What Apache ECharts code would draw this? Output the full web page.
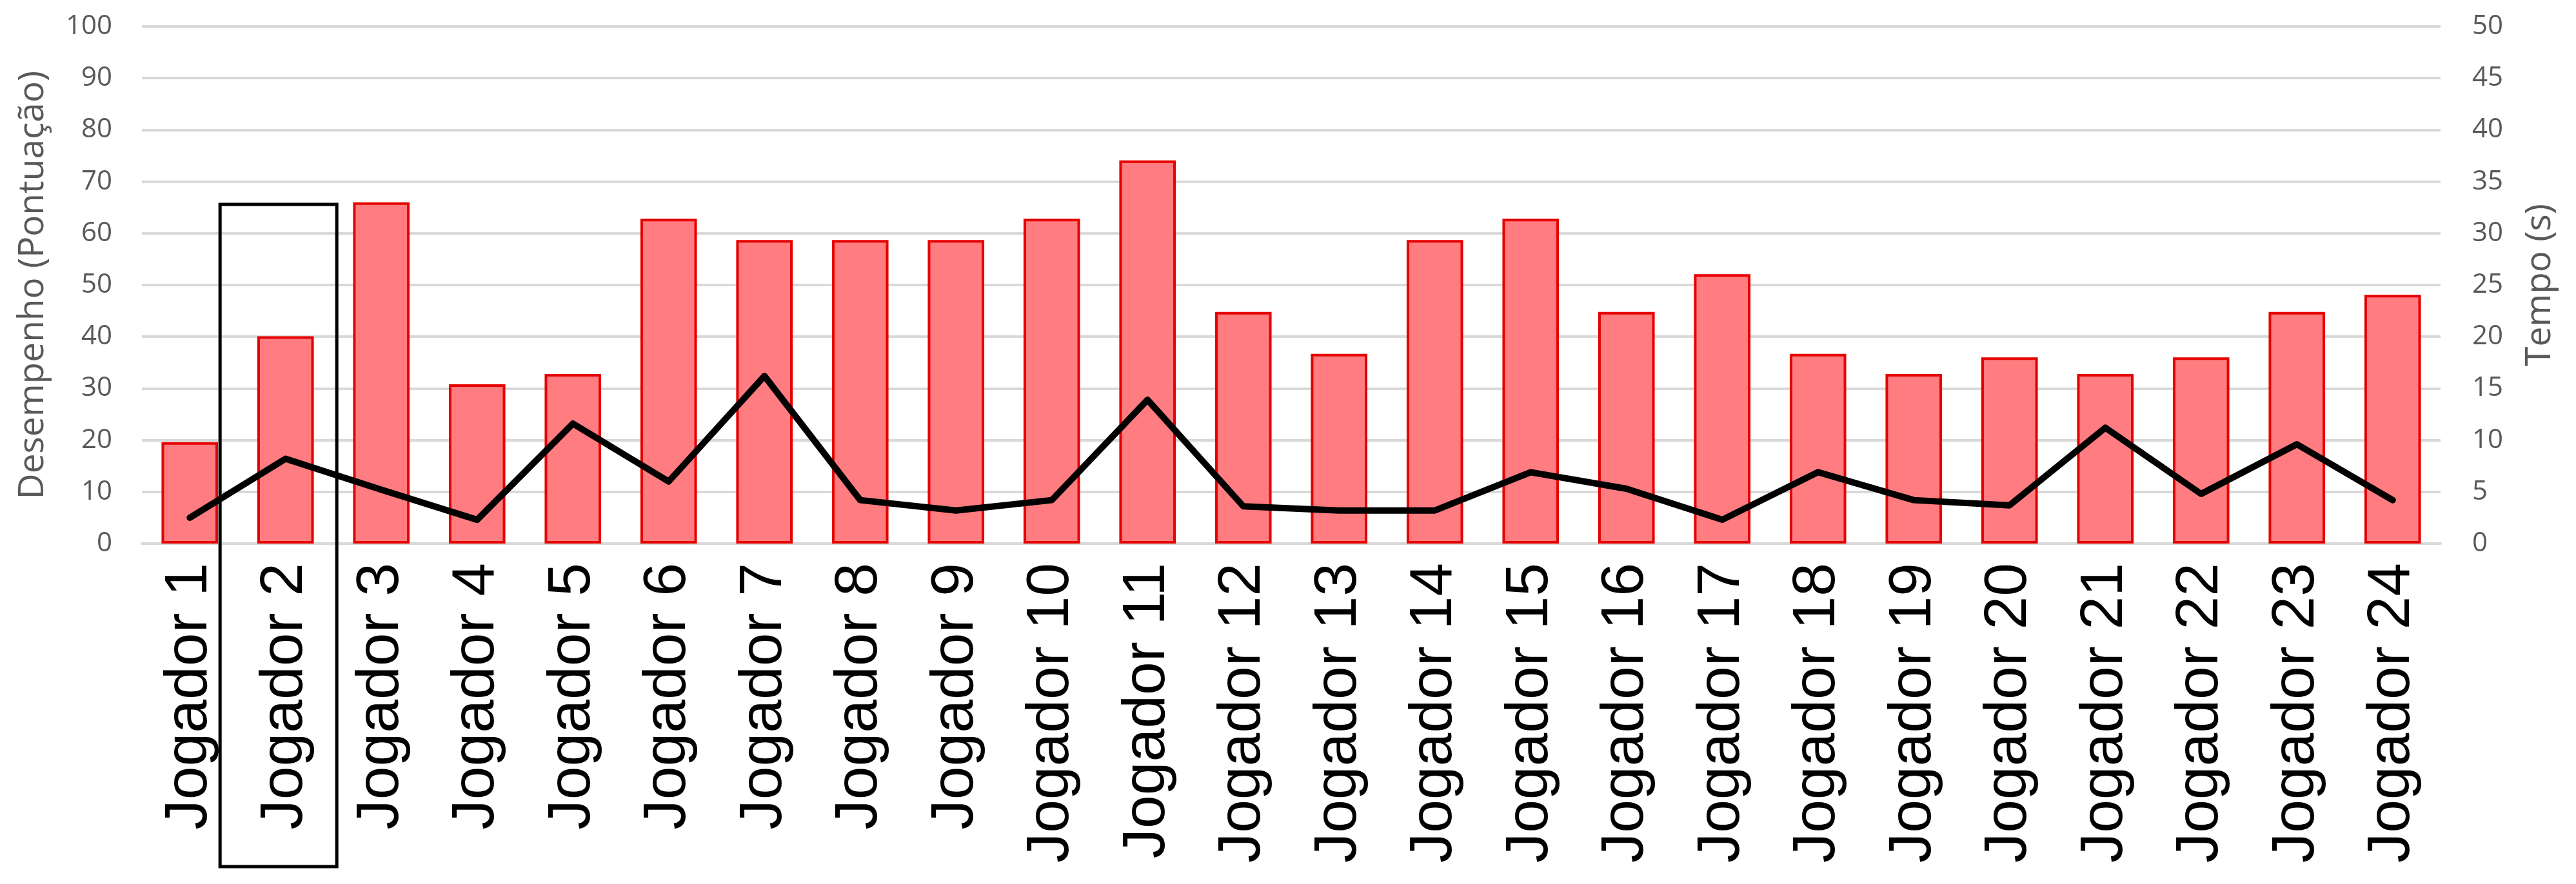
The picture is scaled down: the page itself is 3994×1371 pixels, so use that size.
<!DOCTYPE html>
<html>
<head>
<meta charset="utf-8">
<script src="https://cdn.jsdelivr.net/npm/echarts@6/dist/echarts.min.js"></script>
<style>
html,body{margin:0;padding:0;background:#fff;}
#c{width:3994px;height:1371px;}
</style>
</head>
<body>
<div id="c"></div>
<script>
const categories = ['Jogador 1','Jogador 2','Jogador 3','Jogador 4','Jogador 5','Jogador 6','Jogador 7','Jogador 8','Jogador 9','Jogador 10','Jogador 11','Jogador 12','Jogador 13','Jogador 14','Jogador 15','Jogador 16','Jogador 17','Jogador 18','Jogador 19','Jogador 20','Jogador 21','Jogador 22','Jogador 23','Jogador 24'];
const desempenho = [19.6, 40.1, 66.0, 30.8, 32.8, 62.8, 58.7, 58.7, 58.7, 62.8, 74.1, 44.8, 36.7, 58.7, 62.8, 44.8, 52.1, 36.7, 32.8, 36.0, 32.8, 36.0, 44.8, 48.1];
const tempo = [2.5, 8.2, 5.2, 2.3, 11.6, 6.0, 16.2, 4.2, 3.2, 4.2, 13.9, 3.6, 3.2, 3.2, 6.9, 5.3, 2.3, 6.9, 4.2, 3.7, 11.2, 4.8, 9.6, 4.2];
const leftAxisName = 'Desempenho (Pontuação)';
const rightAxisName = 'Tempo (s)';
const highlighted = 'Jogador 2';
const highlightTop = 65.6;

const chart = echarts.init(document.getElementById('c'));
const gray = '#595959';
const gridColor = '#d9d9d9';
chart.setOption({
  animation: false,
  backgroundColor: '#ffffff',
  grid: {left: 220, right: 210, top: 41, bottom: 528},
  xAxis: {
    type: 'category',
    data: categories,
    axisTick: {show: false},
    axisLine: {show: true, lineStyle: {color: gridColor, width: 4}},
    axisLabel: {
      interval: 0, rotate: 90, margin: 30,
      fontFamily: 'Liberation Sans, Arial, sans-serif', fontSize: 93, color: '#000'
    }
  },
  yAxis: [
    {
      type: 'value', min: 0, max: 100, interval: 10,
      name: leftAxisName, nameLocation: 'middle', nameGap: 141,
      nameTextStyle: {fontFamily: 'Open Sans', fontSize: 55, color: gray},
      axisLine: {show: false}, axisTick: {show: false},
      axisLabel: {fontFamily: 'Open Sans', fontSize: 42, color: gray, margin: 46},
      splitLine: {show: true, lineStyle: {color: gridColor, width: 4}}
    },
    {
      type: 'value', min: 0, max: 50, interval: 5, position: 'right',
      name: rightAxisName, nameLocation: 'middle', nameGap: 127,
      nameTextStyle: {fontFamily: 'Open Sans', fontSize: 55, color: gray},
      axisLine: {show: false}, axisTick: {show: false},
      axisLabel: {fontFamily: 'Open Sans', fontSize: 42, color: gray, margin: 49},
      splitLine: {show: false}
    }
  ],
  series: [
    {
      type: 'bar', yAxisIndex: 0, data: desempenho,
      barCategoryGap: '41%',
      itemStyle: {color: '#ff7c80', borderColor: '#e60000', borderWidth: 4}
    },
    {
      type: 'line', yAxisIndex: 1, data: tempo,
      symbol: 'none', z: 5,
      lineStyle: {color: '#000', width: 10, cap: 'round', join: 'round'}
    }
  ]
});

// annotation rectangle around the highlighted player, positioned via the axes
const cx = chart.convertToPixel({xAxisIndex: 0}, highlighted);
const band = chart.convertToPixel({xAxisIndex: 0}, categories[2]) - cx;
const topY = chart.convertToPixel({yAxisIndex: 0}, highlightTop);
const x0 = cx - 0.684 * band;
const x1 = cx + 0.535 * band;
const y1 = chart.getHeight() - 27;
chart.setOption({
  graphic: [{
    type: 'rect', z: 100,
    shape: {x: x0, y: topY, width: x1 - x0, height: y1 - topY},
    style: {fill: 'none', stroke: '#000', lineWidth: 5}
  }]
});
</script>
</body>
</html>
